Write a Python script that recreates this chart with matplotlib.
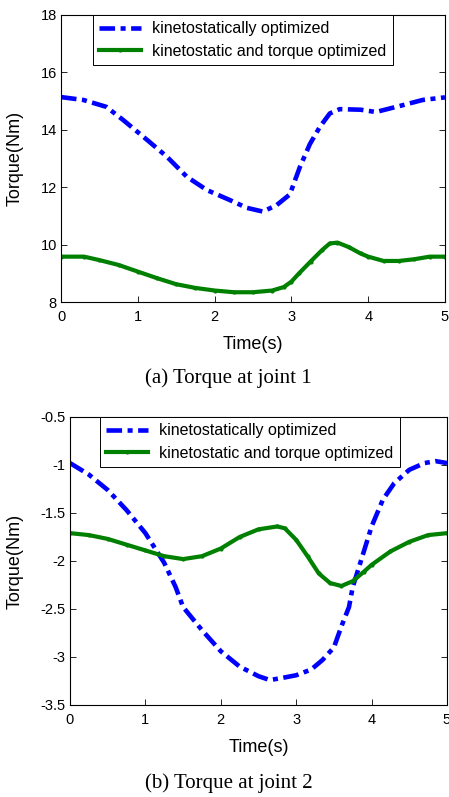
import numpy as np
import matplotlib.pyplot as plt

# -----------------------------
# Data
# -----------------------------

# (a) joint 1
t1_kin = [0, 0.29, 0.59, 0.81, 1.12, 1.38, 1.64, 1.9, 2.2, 2.42, 2.63, 2.81, 2.98,
          3.11, 3.24, 3.37, 3.5, 3.63, 3.9, 4.1, 4.41, 4.71, 5.0]
tq1_kin = [15.14, 15.04, 14.8, 14.34, 13.65, 13.06, 12.36, 11.9, 11.55, 11.28, 11.15,
           11.38, 11.75, 12.7, 13.5, 14.1, 14.57, 14.72, 14.7, 14.62, 14.83, 15.04, 15.13]

t1_opt = [0, 0.3, 0.5, 0.75, 1.0, 1.25, 1.5, 1.75, 2.0, 2.25, 2.5, 2.75, 2.9, 3.0,
          3.1, 3.25, 3.4, 3.5, 3.6, 3.75, 3.9, 4.0, 4.2, 4.4, 4.6, 4.8, 5.0]
tq1_opt = [9.58, 9.58, 9.46, 9.29, 9.06, 8.83, 8.62, 8.49, 8.40, 8.34, 8.34, 8.40,
           8.52, 8.71, 9.0, 9.41, 9.81, 10.04, 10.07, 9.91, 9.69, 9.58, 9.43, 9.43,
           9.49, 9.58, 9.58]

# (b) joint 2
t2_kin = [0, 0.25, 0.5, 0.75, 1.0, 1.25, 1.4, 1.5, 1.75, 2.0, 2.25, 2.5, 2.65, 2.8,
          3.0, 3.2, 3.35, 3.5, 3.6, 3.7, 3.75, 3.85, 4.0, 4.15, 4.3, 4.5, 4.7, 4.85, 5.0]
tq2_kin = [-0.98, -1.10, -1.26, -1.47, -1.71, -2.02, -2.27, -2.48, -2.72, -2.94,
           -3.10, -3.20, -3.24, -3.22, -3.19, -3.13, -3.03, -2.90, -2.68, -2.48,
           -2.27, -2.02, -1.64, -1.36, -1.19, -1.05, -0.98, -0.96, -0.98]

t2_opt = [0, 0.25, 0.5, 0.75, 1.0, 1.25, 1.5, 1.75, 2.0, 2.25, 2.5, 2.75, 2.85, 3.0,
          3.15, 3.3, 3.45, 3.6, 3.75, 3.9, 4.0, 4.25, 4.5, 4.75, 5.0]
tq2_opt = [-1.71, -1.73, -1.77, -1.83, -1.89, -1.95, -1.98, -1.95, -1.87, -1.75,
           -1.67, -1.64, -1.66, -1.78, -1.95, -2.13, -2.23, -2.26, -2.21, -2.11,
           -2.04, -1.90, -1.80, -1.73, -1.71]

labels = ["kinetostatically optimized", "kinetostatic and torque optimized"]
captions = ["(a) Torque at joint 1", "(b) Torque at joint 2"]

blue = (0, 0, 1)
green = (0, 0.5, 0)

plt.rcParams['font.family'] = ['Liberation Sans', 'DejaVu Sans']

fig = plt.figure(figsize=(4.49, 7.97), dpi=100)

ax1 = fig.add_axes([61 / 449, 1 - 302 / 797, 384 / 449, 287 / 797])
ax2 = fig.add_axes([70 / 449, 1 - 705 / 797, 377 / 449, 288 / 797])


def style(ax, ylim, yticks, ytl, ylab_x):
    ax.set_xlim(0, 5)
    ax.set_ylim(*ylim)
    ax.set_xticks([0, 1, 2, 3, 4, 5])
    ax.set_yticks(yticks)
    ax.set_yticklabels(ytl)
    ax.tick_params(direction='in', top=True, right=True, labelsize=10.5, length=4,
                   width=0.6, pad=3)
    ax.tick_params(axis='x', pad=5.5)
    for s in ax.spines.values():
        s.set_linewidth(0.8)
    ax.set_xlabel("Time(s)", fontsize=13, labelpad=9)
    ax.set_ylabel("Torque(Nm)", fontsize=13)
    ax.yaxis.set_label_coords(ylab_x, 0.5)


for ax, tk, yk, to, yo in [(ax1, t1_kin, tq1_kin, t1_opt, tq1_opt),
                           (ax2, t2_kin, tq2_kin, t2_opt, tq2_opt)]:
    ax.plot(tk, yk, color=blue, lw=3.3, linestyle=(0, (3.4, 1.2, 1.1, 1.2)),
            solid_capstyle='butt', label=labels[0])
    ax.plot(to, yo, color=green, lw=3, marker='.', markersize=4, label=labels[1])

style(ax1, (8, 18), [8, 10, 12, 14, 16, 18], ["8", "10", "12", "14", "16", "18"],
      (24 - 61) / 384)
style(ax2, (-3.5, -0.5), [-3.5, -3, -2.5, -2, -1.5, -1, -0.5],
      ["-3.5", "-3", "-2.5", "-2", "-1.5", "-1", "-0.5"], (24 - 70) / 377)

for ax, x0 in [(ax1, (93 - 61) / 384), (ax2, (100 - 70) / 377)]:
    leg = ax.legend(loc='upper left', bbox_to_anchor=(x0, 1.0), fontsize=11.5,
                    fancybox=False, framealpha=1, edgecolor='black',
                    handlelength=2.6, borderpad=0.4, labelspacing=0.45,
                    handletextpad=0.7, borderaxespad=0)
    leg.get_frame().set_linewidth(0.7)

fig.text(228 / 449, 1 - 378 / 797, captions[0], ha='center', va='center',
         fontsize=15, family=['Liberation Serif'])
fig.text(229 / 449, 1 - 783 / 797, captions[1], ha='center', va='center',
         fontsize=15, family=['Liberation Serif'])

fig.savefig("out.png", dpi=100)
